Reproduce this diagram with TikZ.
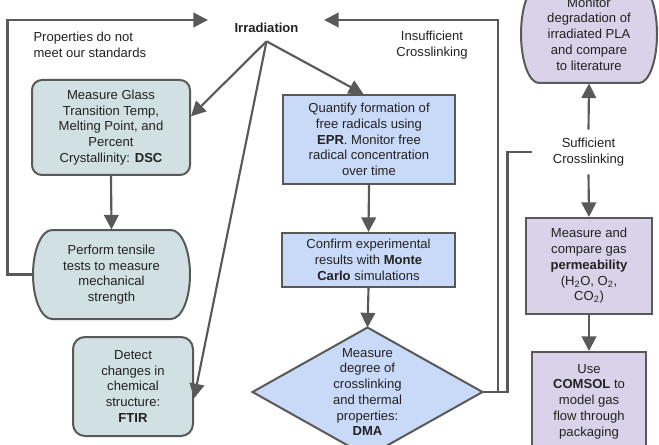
\documentclass[tikz,border=0pt]{standalone}
\usepackage{fontspec}
\setmainfont{Liberation Sans}
\usetikzlibrary{arrows.meta}

\tikzset{every picture/.style={line width=0.75pt}}
\tikzset{
  txt/.style={inner sep=0.75pt, align=center, text={rgb,255:red,34;green,34;blue,34},
    font=\fontsize{9.8}{11.8}\selectfont},
  frame/.style={draw={rgb,255:red,89;green,89;blue,89}, line width=1.5pt},
  tealbox/.style={txt, frame, fill={rgb,255:red,208;green,224;blue,227}, rounded corners=7.5pt},
  bluebox/.style={txt, frame, fill={rgb,255:red,201;green,218;blue,248}},
  purplebox/.style={txt, frame, fill={rgb,255:red,217;green,210;blue,233}},
  flow/.style={draw={rgb,255:red,89;green,89;blue,89}, line width=1.6pt},
  flowarr/.style={flow, -{Triangle[length=11pt,width=11pt]}}
}

\begin{document}
\begin{tikzpicture}[x=0.75pt,y=0.75pt,yscale=-1,xscale=1]
\useasboundingbox (0,0) rectangle (659,445);
\clip (0,0) rectangle (659,445);

%Shape: Curved Box [id:tensileshape]
\draw [frame, fill={rgb,255:red,208;green,224;blue,227}] (52,230) -- (171,230) .. controls (181.5,230) and (190,250) .. (190,274.5) .. controls (190,299) and (181.5,319) .. (171,319) -- (52,319) .. controls (41.5,319) and (33,299) .. (33,274.5) .. controls (33,250) and (41.5,230) .. (52,230) -- cycle ;
%Shape: Curved Box [id:monitorshape]
\draw [frame, fill={rgb,255:red,217;green,210;blue,233}] (539,-15) -- (639,-15) .. controls (649,-15) and (657,7) .. (657,34) .. controls (657,61) and (649,83) .. (639,83) -- (539,83) .. controls (529,83) and (521,61) .. (521,34) .. controls (521,7) and (529,-15) .. (539,-15) -- cycle ;

% Text Node
\node [txt, font=\fontsize{9.8}{11.8}\selectfont\bfseries, inner sep=6pt] (irr) at (266.5,28) {Irradiation};
% Text Node
\node [txt, align=left, anchor=west] (props) at (32,45) {Properties do not\\meet our standards};
% Text Node
\node [txt] (insuff) at (432,45) {Insufficient\\Crosslinking};
% Text Node
\node [txt, inner sep=6pt] (suff) at (588.5,152) {Sufficient\\Crosslinking};

% Left column
\node [tealbox, minimum width=118.5pt, minimum height=71.25pt] (dsc) at (111,127.5) {Measure Glass\\Transition Temp,\\Melting Point, and\\Percent\\Crystallinity: \textbf{DSC}};
\node [txt, minimum width=117.75pt, minimum height=66.75pt] (tensile) at (111.5,274.5) {Perform tensile\\tests to measure\\mechanical\\strength};
\node [tealbox, rounded corners=9pt, minimum width=90pt, minimum height=74.25pt] (ftir) at (133,386.5) {Detect\\changes in\\chemical\\structure:\\\textbf{FTIR}};

% Middle column
\node [bluebox, minimum width=129pt, minimum height=66.75pt] (epr) at (369,139.5) {Quantify formation of\\free radicals using\\\textbf{EPR}. Monitor free\\radical concentration\\over time};
\node [bluebox, minimum width=129.75pt, minimum height=40.5pt] (mc) at (368.5,260) {Confirm experimental\\results with \textbf{Monte}\\\textbf{Carlo} simulations};
\node [txt, minimum width=171.75pt, minimum height=96pt] (dma) at (367.5,392) {};
\draw [frame, fill={rgb,255:red,201;green,218;blue,248}] (dma.north) -- (dma.east) -- (dma.south) -- (dma.west) -- cycle ;
\node [txt] (dmatext) at (dma.center) {Measure\\degree of\\crosslinking\\and thermal\\properties:\\\textbf{DMA}};

% Right column
\node [txt, minimum width=102pt, minimum height=73.5pt] (monitor) at (589,34) {Monitor\\degradation of\\irradiated PLA\\and compare\\to literature};
\node [purplebox, minimum width=94.5pt, minimum height=72pt] (perm) at (589,266) {Measure and\\compare gas\\\textbf{permeability}\\(H\textsubscript{2}O, O\textsubscript{2},\\CO\textsubscript{2})};
\node [purplebox, minimum width=85.5pt, minimum height=74.25pt] (comsol) at (589,401.5) {Use\\\textbf{COMSOL} to\\model gas\\flow through\\packaging};

% free ends
\coordinate (irrL) at (208,20);
\coordinate (irrR) at (324,20);
\coordinate (suffL) at (532,152);

%Straight Lines
\draw [flowarr] (irr.south) -- (dsc.8);
\draw [flowarr] (irr.south) -- (epr.97);
\draw [flowarr] (irr.south) -- (ftir.349);
\draw [flowarr] (dsc.south) -- (tensile.north);
\draw [flowarr] (tensile.west) -- ++(-25,0) |- (irrL);
\draw [flowarr] (epr.south) -- (mc.north);
\draw [flowarr] (mc.south) -- (dma.north);
\draw [flowarr] (dma.east) -- ++(15.5,0) |- (irrR);
\draw [flow] (dma.east) -- ++(25,0) |- (suffL);
\draw [flowarr] (suff.north) -- (monitor.south);
\draw [flowarr] (suff.south) -- (perm.north);
\draw [flowarr] (perm.south) -- (comsol.north);

\end{tikzpicture}
\end{document}
